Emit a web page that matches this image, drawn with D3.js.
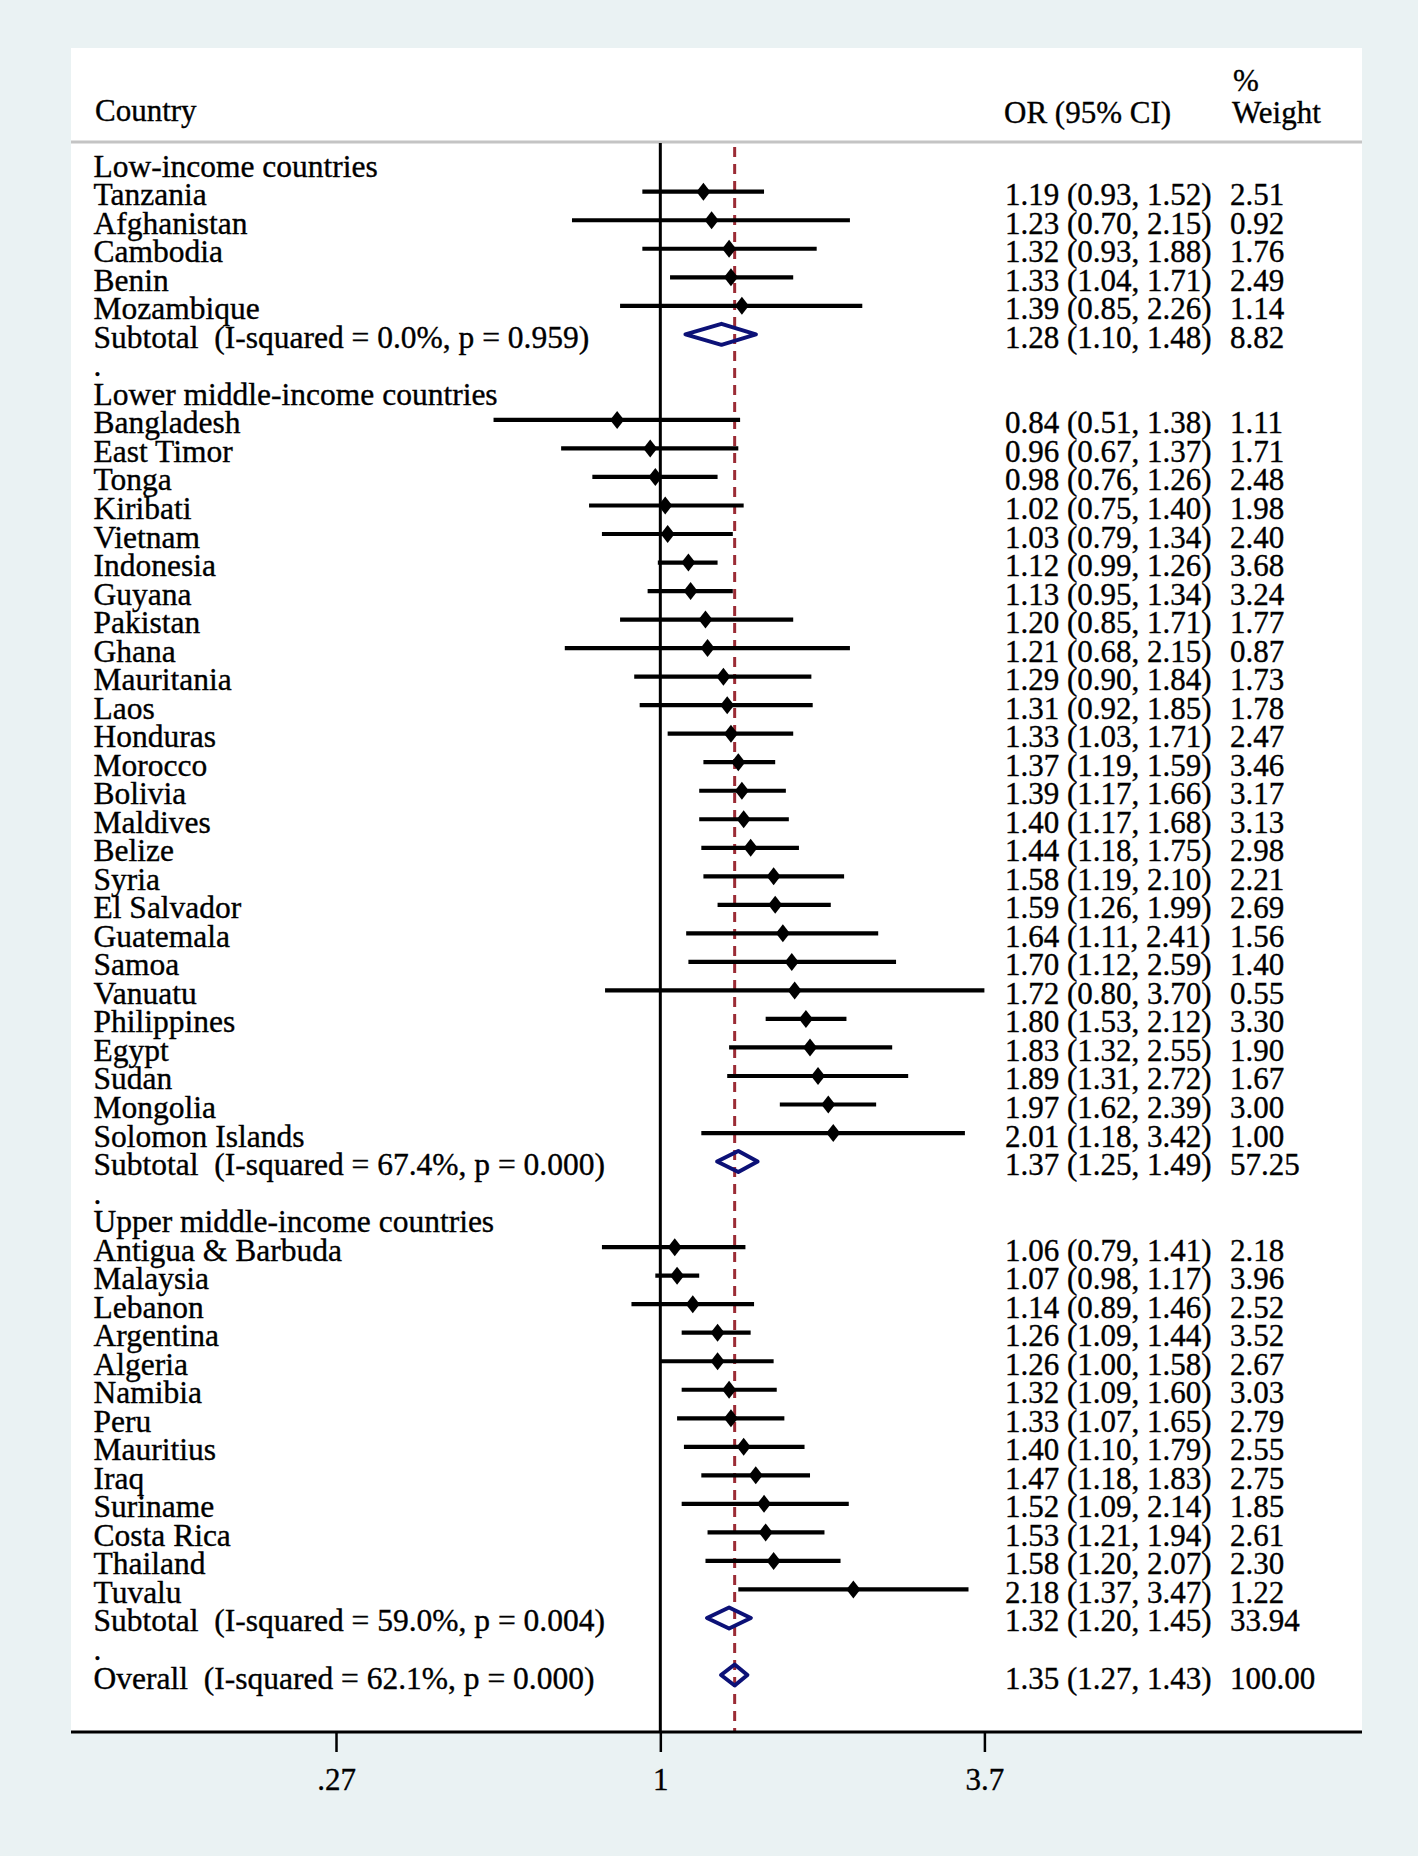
<!DOCTYPE html>
<html>
<head>
<meta charset="utf-8">
<script src="https://cdn.jsdelivr.net/npm/d3@7"></script>
<style>
  html, body { margin: 0; padding: 0; background: #eaf2f3; }
  svg { display: block; }
  text { font-family: "Liberation Serif", "Times New Roman", serif; font-size: 31px; fill: #000; stroke: #000; stroke-width: 0.35px; white-space: pre; }
  text.lab { font-size: 31.5px; }
</style>
</head>
<body>
<svg id="chart" width="1418" height="1856"></svg>
<script>
// ---------------- DATA ----------------
const groupNames = ["Low-income countries", "Lower middle-income countries", "Upper middle-income countries"];

const countries = [
  "Tanzania", "Afghanistan", "Cambodia", "Benin", "Mozambique",
  "Bangladesh", "East Timor", "Tonga", "Kiribati", "Vietnam", "Indonesia", "Guyana", "Pakistan", "Ghana",
  "Mauritania", "Laos", "Honduras", "Morocco", "Bolivia", "Maldives", "Belize", "Syria", "El Salvador",
  "Guatemala", "Samoa", "Vanuatu", "Philippines", "Egypt", "Sudan", "Mongolia", "Solomon Islands",
  "Antigua & Barbuda", "Malaysia", "Lebanon", "Argentina", "Algeria", "Namibia", "Peru", "Mauritius",
  "Iraq", "Suriname", "Costa Rica", "Thailand", "Tuvalu"
];
const countryGroup = [
  0, 0, 0, 0, 0,
  1, 1, 1, 1, 1, 1, 1, 1, 1, 1, 1, 1, 1, 1, 1, 1, 1, 1, 1, 1, 1, 1, 1, 1, 1, 1,
  2, 2, 2, 2, 2, 2, 2, 2, 2, 2, 2, 2, 2
];
const oddsRatio = [
  1.19, 1.23, 1.32, 1.33, 1.39,
  0.84, 0.96, 0.98, 1.02, 1.03, 1.12, 1.13, 1.20, 1.21, 1.29, 1.31, 1.33, 1.37, 1.39, 1.40, 1.44, 1.58, 1.59,
  1.64, 1.70, 1.72, 1.80, 1.83, 1.89, 1.97, 2.01,
  1.06, 1.07, 1.14, 1.26, 1.26, 1.32, 1.33, 1.40, 1.47, 1.52, 1.53, 1.58, 2.18
];
const ciLower = [
  0.93, 0.70, 0.93, 1.04, 0.85,
  0.51, 0.67, 0.76, 0.75, 0.79, 0.99, 0.95, 0.85, 0.68, 0.90, 0.92, 1.03, 1.19, 1.17, 1.17, 1.18, 1.19, 1.26,
  1.11, 1.12, 0.80, 1.53, 1.32, 1.31, 1.62, 1.18,
  0.79, 0.98, 0.89, 1.09, 1.00, 1.09, 1.07, 1.10, 1.18, 1.09, 1.21, 1.20, 1.37
];
const ciUpper = [
  1.52, 2.15, 1.88, 1.71, 2.26,
  1.38, 1.37, 1.26, 1.40, 1.34, 1.26, 1.34, 1.71, 2.15, 1.84, 1.85, 1.71, 1.59, 1.66, 1.68, 1.75, 2.10, 1.99,
  2.41, 2.59, 3.70, 2.12, 2.55, 2.72, 2.39, 3.42,
  1.41, 1.17, 1.46, 1.44, 1.58, 1.60, 1.65, 1.79, 1.83, 2.14, 1.94, 2.07, 3.47
];
const weights = [
  2.51, 0.92, 1.76, 2.49, 1.14,
  1.11, 1.71, 2.48, 1.98, 2.40, 3.68, 3.24, 1.77, 0.87, 1.73, 1.78, 2.47, 3.46, 3.17, 3.13, 2.98, 2.21, 2.69,
  1.56, 1.40, 0.55, 3.30, 1.90, 1.67, 3.00, 1.00,
  2.18, 3.96, 2.52, 3.52, 2.67, 3.03, 2.79, 2.55, 2.75, 1.85, 2.61, 2.30, 1.22
];

const subtotalLabels = [
  "Subtotal  (I-squared = 0.0%, p = 0.959)",
  "Subtotal  (I-squared = 67.4%, p = 0.000)",
  "Subtotal  (I-squared = 59.0%, p = 0.004)"
];
const subtotalOR = [1.28, 1.37, 1.32];
const subtotalLower = [1.10, 1.25, 1.20];
const subtotalUpper = [1.48, 1.49, 1.45];
const subtotalWeight = [8.82, 57.25, 33.94];

const overallLabel = "Overall  (I-squared = 62.1%, p = 0.000)";
const overallOR = 1.35;
const overallLower = 1.27;
const overallUpper = 1.43;
const overallWeight = 100.00;

const tickValues = [0.27, 1, 3.7];
const tickLabels = [".27", "1", "3.7"];
const headerLabels = ["Country", "OR (95% CI)", "%", "Weight"];

// ---------------- BUILD ROWS ----------------
const rows = [];
groupNames.forEach((g, gi) => {
  rows.push({ type: "header", label: g });
  countries.forEach((c, ci) => {
    if (countryGroup[ci] === gi) {
      rows.push({ type: "study", label: c, or: oddsRatio[ci], lo: ciLower[ci], hi: ciUpper[ci], w: weights[ci] });
    }
  });
  rows.push({ type: "pooled", label: subtotalLabels[gi], or: subtotalOR[gi], lo: subtotalLower[gi], hi: subtotalUpper[gi], w: subtotalWeight[gi] });
  rows.push({ type: "spacer", label: "." });
});
rows.push({ type: "pooled", label: overallLabel, or: overallOR, lo: overallLower, hi: overallUpper, w: overallWeight });
rows.forEach((r, i) => r.i = i);

// ---------------- LAYOUT ----------------
const svg = d3.select("#chart");
const panel = { left: 71, right: 1362, top: 48, bottom: 1732 };
const labelX = 93.5, orX = 1005, weightX = 1230;
const textDy = 13.5;

const x = d3.scaleLog().domain([0.27, 3.7]).range([336, 984.4]);
const y = d3.scaleLinear().domain([0, rows.length - 1]).range([163.2, 1675]);
const f2 = d3.format(".2f");

// panel
svg.append("rect")
  .attr("x", panel.left).attr("y", panel.top)
  .attr("width", panel.right - panel.left).attr("height", panel.bottom - panel.top)
  .attr("fill", "#ffffff");

// header separator
svg.append("line")
  .attr("x1", panel.left).attr("x2", panel.right)
  .attr("y1", 142).attr("y2", 142)
  .attr("stroke", "#c4c4c4").attr("stroke-width", 3);

// headers
svg.append("text").attr("x", 95).attr("y", 121).text(headerLabels[0]);
svg.append("text").attr("x", 1004).attr("y", 123).text(headerLabels[1]);
svg.append("text").attr("x", 1233).attr("y", 91).text(headerLabels[2]);
svg.append("text").attr("x", 1232).attr("y", 123).text(headerLabels[3]);

// null line at 1
svg.append("line")
  .attr("x1", x(1)).attr("x2", x(1))
  .attr("y1", 143).attr("y2", panel.bottom)
  .attr("stroke", "#000").attr("stroke-width", 3);

// overall effect dashed line
svg.append("line")
  .attr("x1", x(overallOR)).attr("x2", x(overallOR))
  .attr("y1", 147).attr("y2", panel.bottom)
  .attr("stroke", "#9b2b35").attr("stroke-width", 3)
  .attr("stroke-dasharray", "10,7");

const studies = rows.filter(r => r.type === "study");
const pooled = rows.filter(r => r.type === "pooled");

// CI lines
svg.append("g").selectAll("line").data(studies).join("line")
  .attr("x1", d => x(d.lo)).attr("x2", d => x(d.hi))
  .attr("y1", d => y(d.i)).attr("y2", d => y(d.i))
  .attr("stroke", "#000").attr("stroke-width", 4.2);

// point markers (diamonds)
const mw = 7, mh = 9;
svg.append("g").selectAll("path").data(studies).join("path")
  .attr("d", d => {
    const cx = x(d.or), cy = y(d.i);
    return `M${cx - mw},${cy}L${cx},${cy - mh}L${cx + mw},${cy}L${cx},${cy + mh}Z`;
  })
  .attr("fill", "#000");

// pooled diamonds
const ph = 10.5;
svg.append("g").selectAll("path").data(pooled).join("path")
  .attr("d", d => {
    const cy = y(d.i);
    return `M${x(d.lo) + 1.5},${cy}L${x(d.or)},${cy - ph}L${x(d.hi) - 1.5},${cy}L${x(d.or)},${cy + ph}Z`;
  })
  .attr("fill", "none").attr("stroke", "#0c1177").attr("stroke-width", 4)
  .attr("stroke-linejoin", "round");

// labels
svg.append("g").selectAll("text").data(rows).join("text")
  .attr("class", "lab")
  .attr("x", labelX).attr("y", d => y(d.i) + textDy)
  .text(d => d.label);

// OR text
const valued = rows.filter(r => r.type === "study" || r.type === "pooled");
svg.append("g").selectAll("text").data(valued).join("text")
  .attr("x", orX).attr("y", d => y(d.i) + textDy)
  .text(d => `${f2(d.or)} (${f2(d.lo)}, ${f2(d.hi)})`);

svg.append("g").selectAll("text").data(valued).join("text")
  .attr("x", weightX).attr("y", d => y(d.i) + textDy)
  .text(d => f2(d.w));

// x axis
svg.append("line")
  .attr("x1", panel.left).attr("x2", panel.right)
  .attr("y1", panel.bottom).attr("y2", panel.bottom)
  .attr("stroke", "#000").attr("stroke-width", 3);

const axis = d3.axisBottom(x).tickValues(tickValues).tickFormat((d, i) => tickLabels[i]).tickSize(20).tickPadding(20);
const ag = svg.append("g").attr("transform", `translate(0,${panel.bottom})`).call(axis);
ag.select(".domain").remove();
ag.selectAll(".tick line").attr("stroke", "#000").attr("stroke-width", 2.5);
ag.selectAll(".tick text")
  .attr("font-family", "Liberation Serif, Times New Roman, serif")
  .attr("font-size", 31).attr("fill", "#000")
  .attr("dy", null).attr("y", 58);
</script>
</body>
</html>
